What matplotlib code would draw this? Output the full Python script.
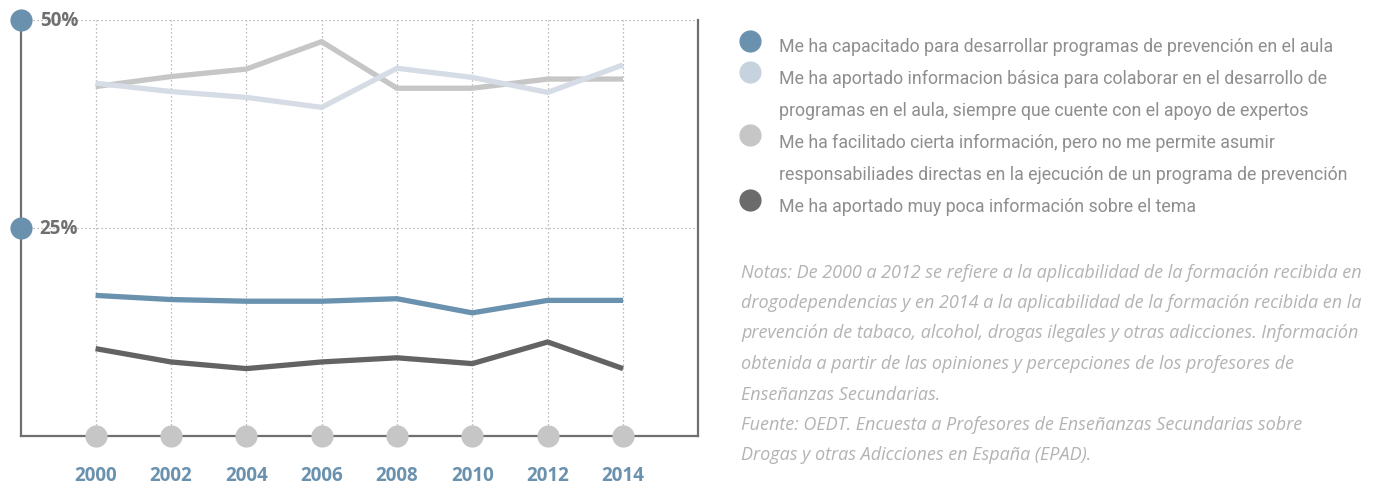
import matplotlib
matplotlib.use("Agg")
import matplotlib.pyplot as plt

years = [2000, 2002, 2004, 2006, 2008, 2010, 2012, 2014]
year_labels = ["2000", "2002", "2004", "2006", "2008", "2010", "2012", "2014"]
capacitado = [16.9, 16.4, 16.2, 16.2, 16.5, 14.8, 16.3, 16.3]
basica = [42.4, 41.4, 40.7, 39.5, 44.2, 43.1, 41.3, 44.6]
cierta = [42.0, 43.2, 44.1, 47.4, 41.8, 41.8, 42.9, 42.9]
poca = [10.5, 8.9, 8.1, 8.9, 9.4, 8.7, 11.3, 8.1]
ytick_vals = [25, 50]
ytick_labels = ["25%", "50%"]

series_names = [
    "Me ha capacitado para desarrollar programas de prevención en el aula",
    "Me ha aportado informacion básica para colaborar en el desarrollo de\nprogramas en el aula, siempre que cuente con el apoyo de expertos",
    "Me ha facilitado cierta información, pero no me permite asumir\nresponsabiliades directas en la ejecución de un programa de prevención",
    "Me ha aportado muy poca información sobre el tema",
]
notes = [
    "Notas: De 2000 a 2012 se refiere a la aplicabilidad de la formación recibida en",
    "drogodependencias y en 2014 a la aplicabilidad de la formación recibida en la",
    "prevención de tabaco, alcohol, drogas ilegales y otras adicciones. Información",
    "obtenida a partir de las opiniones y percepciones de los profesores de",
    "Enseñanzas Secundarias.",
    "Fuente: OEDT. Encuesta a Profesores de Enseñanzas Secundarias sobre",
    "Drogas y otras Adicciones en España (EPAD).",
]

C_BLUE = "#6a91ae"
C_LBLUE = "#d5dce6"
C_LBLUE_DOT = "#c7d2df"
C_LGRAY = "#c6c6c6"
C_DGRAY = "#636363"
C_AXIS = "#6f6f6f"
C_GRID = "#a8a8a8"

W, H = 1378, 484
fig = plt.figure(figsize=(W / 100, H / 100), dpi=100)
ax = fig.add_axes([21 / W, 48 / H, 677 / W, 416 / H])
ax.set_xlim(1998.02, 2015.99)
ax.set_ylim(0, 50)

# grid
for yv in ytick_vals:
    ax.axhline(yv, color=C_GRID, lw=0.9, ls=(0, (1, 2.2)), zorder=1)
ax.vlines(years, 1.3, 50, color=C_GRID, lw=0.9, linestyles=[(0, (1, 2.2))], zorder=1)

# lines
for vals, col in [(cierta, C_LGRAY), (basica, C_LBLUE), (capacitado, C_BLUE), (poca, C_DGRAY)]:
    ax.plot(years, vals, color=col, lw=3.8, solid_capstyle="butt",
            solid_joinstyle="miter", zorder=3)

# spines
for s in ["left", "right", "bottom"]:
    ax.spines[s].set_color(C_AXIS)
    ax.spines[s].set_linewidth(1.6)
ax.spines["top"].set_visible(False)

# x ticks
ax.set_xticks(years)
ax.set_xticklabels(year_labels, fontfamily="Open Sans", fontweight="bold",
                   fontsize=13.5, color=C_BLUE)
ax.tick_params(axis="x", length=0, pad=21.5)
ax.set_yticks([])

# bottom circles
ax.scatter(years, [0] * len(years), s=255, color=C_LGRAY, zorder=5,
           clip_on=False, linewidths=0)
# y-axis circles + labels
ax.scatter([ax.get_xlim()[0]] * len(ytick_vals), ytick_vals, s=255, color=C_BLUE,
           zorder=5, clip_on=False, linewidths=0)
for yv, lab in zip(ytick_vals, ytick_labels):
    ax.annotate(lab, xy=(ax.get_xlim()[0], yv), xytext=(13.5, -1),
                textcoords="offset points", ha="left", va="center",
                fontfamily="Open Sans", fontweight="bold", fontsize=13.5,
                color=C_AXIS, annotation_clip=False)

# overlay axes for legend and notes (pixel coordinates)
ov = fig.add_axes([0, 0, 1, 1])
ov.set_xlim(0, W)
ov.set_ylim(H, 0)
ov.axis("off")
ov.patch.set_alpha(0)

leg_colors = [C_BLUE, C_LBLUE_DOT, C_LGRAY, "#6b6b6b"]
leg_circle_y = [41, 72, 135, 200]
leg_text_y = [52.5, 84.5, 148.5, 211.5]
line_gap = 31.5
for name, col, cy, ty in zip(series_names, leg_colors, leg_circle_y, leg_text_y):
    ov.scatter([750], [cy], s=255, color=col, linewidths=0)
    for i, part in enumerate(name.split("\n")):
        ov.text(779, ty + i * line_gap, part, fontfamily="Roboto", fontweight="normal",
                fontsize=12.8, color="#8e8e8e", ha="left", va="baseline")

note_y0 = 277.5
note_gap = 30.5
for i, line in enumerate(notes):
    ov.text(741, note_y0 + i * note_gap, line, fontfamily="Open Sans", fontweight="normal",
            style="italic", fontsize=13.0, color="#b3b3b3", ha="left", va="baseline")

fig.savefig("out.png", dpi=100)
